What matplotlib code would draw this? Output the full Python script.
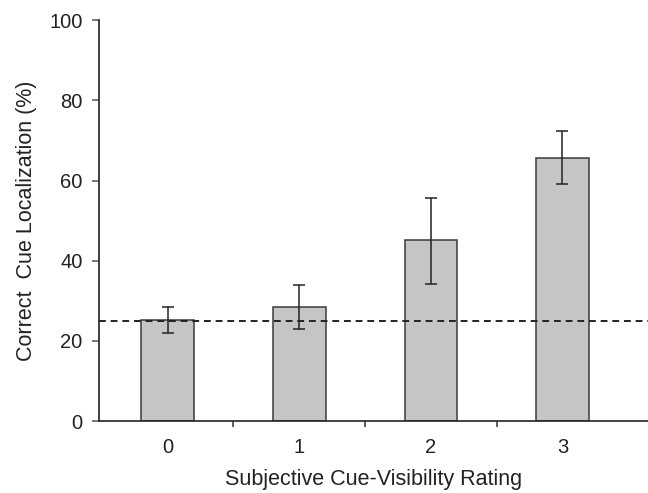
import matplotlib
matplotlib.use("Agg")
import matplotlib.pyplot as plt
from matplotlib import font_manager

categories = ["0", "1", "2", "3"]
values = [25.2, 28.4, 45.2, 65.7]
err_low = [21.9, 22.9, 34.2, 59.1]
err_high = [28.5, 33.9, 55.7, 72.3]
chance = 25
yticks = [0, 20, 40, 60, 80, 100]

names = {f.name for f in font_manager.fontManager.ttflist}
fam = ["Liberation Sans Narrow", "DejaVu Sans"] if "Liberation Sans Narrow" in names else ["Liberation Sans", "DejaVu Sans"]
plt.rcParams['font.family'] = fam

fig = plt.figure(figsize=(6.48, 4.93), dpi=100)
ax = fig.add_axes([0.153, 0.146, 0.847, 0.813])

x = list(range(len(categories)))
yerr = [[v - l for v, l in zip(values, err_low)], [h - v for v, h in zip(values, err_high)]]
ax.bar(x, values, width=0.4, color="#c4c5c7", edgecolor="#3a3a3a", linewidth=1.1, zorder=2)
ax.errorbar(x, values, yerr=yerr, fmt="none", ecolor="#222222", elinewidth=1.1, capsize=4, capthick=1.1, zorder=3)
ax.axhline(chance, color="#222222", linestyle=(0, (3.5, 2.5)), linewidth=1.4, zorder=4)

ax.set_xlim(-0.52, 3.65)
ax.set_ylim(0, 100)
ax.set_yticks(yticks)
ax.set_yticklabels([str(t) for t in yticks], fontsize=14.5, color="#222222")
ax.set_xticks([0.5, 1.5, 2.5])
ax.set_xticklabels([])
ax.set_xticks(x, minor=True)
ax.set_xticklabels(categories, minor=True, fontsize=14.5, color="#222222")
ax.tick_params(axis="x", which="minor", length=0, pad=12)
ax.tick_params(axis="x", which="major", length=4.5, direction="out", width=1.1, color="#333333")
ax.tick_params(axis="y", length=5, direction="out", width=1.1, color="#555555", pad=7)
for s in ["top", "right"]:
    ax.spines[s].set_visible(False)
for s in ["left", "bottom"]:
    ax.spines[s].set_linewidth(1.2)
    ax.spines[s].set_color("#222222")

ax.set_xlabel("Subjective Cue-Visibility Rating", fontsize=15.5, labelpad=9, color="#222222")
ax.set_ylabel("Correct  Cue Localization (%)", fontsize=15.5, labelpad=9, color="#222222")

fig.savefig("out.png", dpi=100)
